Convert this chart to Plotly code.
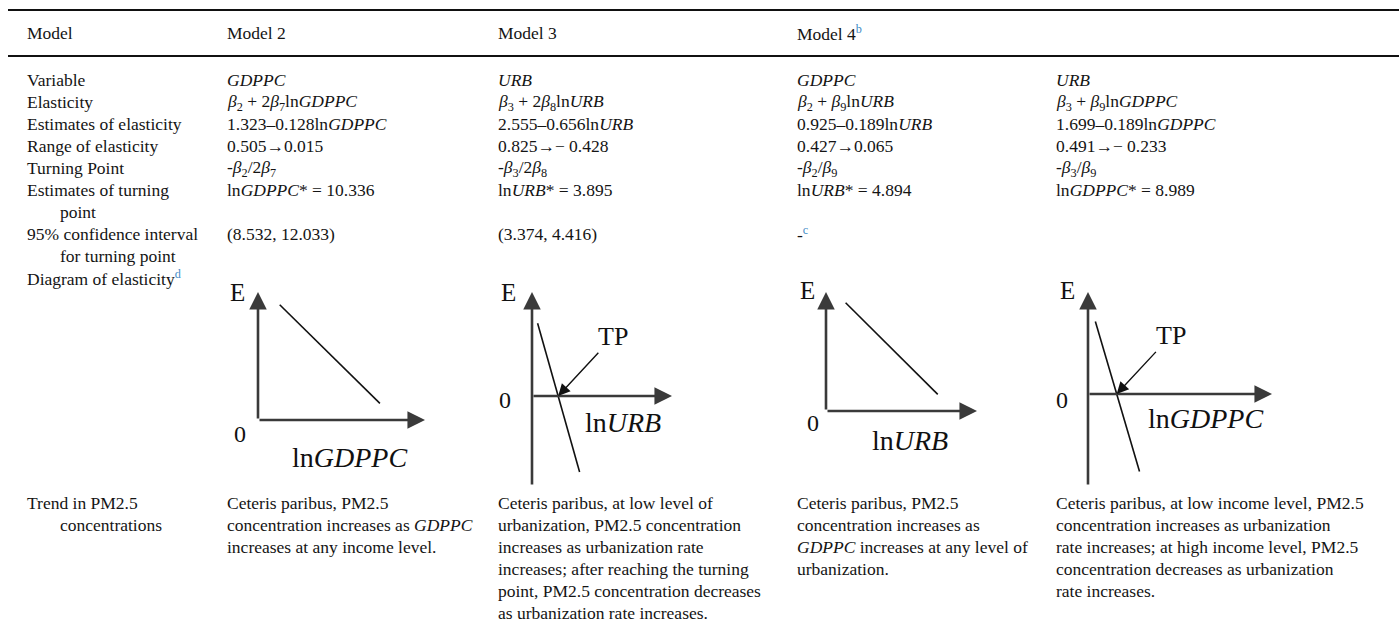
import plotly.graph_objects as go

# ---------------- table content ----------------
model_names = ["Model 2", "Model 3", "Model 4", ""]
model_notes = ["", "", "b", ""]

row_labels = ["Variable", "Elasticity", "Estimates of elasticity",
              "Range of elasticity", "Turning Point"]

variables = ["GDPPC", "URB", "GDPPC", "URB"]
elasticity = [
    "<i>β</i><sub>2</sub> + 2<i>β</i><sub>7</sub>ln<i>GDPPC</i>",
    "<i>β</i><sub>3</sub> + 2<i>β</i><sub>8</sub>ln<i>URB</i>",
    "<i>β</i><sub>2</sub> + <i>β</i><sub>9</sub>ln<i>URB</i>",
    "<i>β</i><sub>3</sub> + <i>β</i><sub>9</sub>ln<i>GDPPC</i>",
]
elas_const = [1.323, 2.555, 0.925, 1.699]
elas_slope = [0.128, 0.656, 0.189, 0.189]
elas_var = ["GDPPC", "URB", "URB", "GDPPC"]
range_start = [0.505, 0.825, 0.427, 0.491]
range_end = [0.015, -0.428, 0.065, -0.233]
turning_formula = [
    "-<i>β</i><sub>2</sub>/2<i>β</i><sub>7</sub>",
    "-<i>β</i><sub>3</sub>/2<i>β</i><sub>8</sub>",
    "-<i>β</i><sub>2</sub>/<i>β</i><sub>9</sub>",
    "-<i>β</i><sub>3</sub>/<i>β</i><sub>9</sub>",
]
tp_var = ["GDPPC", "URB", "URB", "GDPPC"]
tp_value = [10.336, 3.895, 4.894, 8.989]
ci_low = [8.532, 3.374, None, None]
ci_high = [12.033, 4.416, None, None]
ci_note = ["", "", "c", None]

trend_label = ["Trend in PM2.5", "concentrations"]
trend_text = [
    ["Ceteris paribus, PM2.5",
     "concentration increases as <i>GDPPC</i>",
     "increases at any income level."],
    ["Ceteris paribus, at low level of",
     "urbanization, PM2.5 concentration",
     "increases as urbanization rate",
     "increases; after reaching the turning",
     "point, PM2.5 concentration decreases",
     "as urbanization rate increases."],
    ["Ceteris paribus, PM2.5",
     "concentration increases as",
     "<i>GDPPC</i> increases at any level of",
     "urbanization."],
    ["Ceteris paribus, at low income level, PM2.5",
     "concentration increases as urbanization",
     "rate increases; at high income level, PM2.5",
     "concentration decreases as urbanization",
     "rate increases."],
]

# schematic elasticity lines (ln x, E) for each diagram, unit axes
sketch_x = [[0.13, 0.73], [0.04, 0.34], [0.13, 0.74], [0.04, 0.28]]
sketch_e = [[0.90, 0.13], [0.70, -0.73], [0.91, 0.14], [0.71, -0.76]]
sketch_axis = ["ln<i>GDPPC</i>", "ln<i>URB</i>", "ln<i>URB</i>", "ln<i>GDPPC</i>"]

# ---------------- layout geometry ----------------
W, H = 1399, 625
SERIF = "Liberation Serif, Times New Roman, serif"
FS = 17.5
INK = "#141414"
NOTE = "#3f8cc6"
AXC = "#3a3a3a"

col_x = [25, 225, 496, 795, 1054]
indent = 33
rule_y = [10, 56]
header_y = 33
row_y0, row_dy = 80, 22
trend_y0, trend_dy = 503, 22

# diagram frames: origin (px), x-axis length, y extent above/below origin,
# offsets of the E / 0 / axis-title labels, TP label position (unit axes)
diagrams = [
    dict(ox=258, oy=420, xl=167, up=128, down=0, e=(-21, -128), z=(-18, 14), t=(91, 37), tp=None),
    dict(ox=532, oy=396, xl=140, up=104, down=90, e=(-24, -104), z=(-27, 4), t=(91, 26), tp=(0.58, 0.57)),
    dict(ox=826, oy=411, xl=151, up=119, down=0, e=(-19, -121), z=(-13, 12), t=(84, 29), tp=None),
    dict(ox=1088, oy=394, xl=184, up=102, down=92, e=(-21, -104), z=(-26, 6), t=(117, 24), tp=(0.45, 0.57)),
]

ann = []


def put(x, y, text, size=FS, color=INK, xanchor="left"):
    ann.append(dict(x=x, y=y, xref="x", yref="y", text=text, showarrow=False,
                    xanchor=xanchor, yanchor="middle",
                    font=dict(family=SERIF, size=size, color=color)))


def note(s):
    return f"<span style='color:{NOTE}'><sup>{s}</sup></span>" if s else ""


def arrow_range(a, b):
    tail = f"− {abs(b):.3f}" if b < 0 else f"{b:.3f}"
    return f"{a:.3f}→{tail}"


# header
put(col_x[0], header_y, "Model")
for i, name in enumerate(model_names):
    if name:
        put(col_x[i + 1], header_y, name + note(model_notes[i]))

# simple rows
ys = [row_y0 + k * row_dy for k in range(12)]
for k, lab in enumerate(row_labels):
    put(col_x[0], ys[k], lab)
for i in range(4):
    put(col_x[i + 1], ys[0], f"<i>{variables[i]}</i>")
    put(col_x[i + 1], ys[1], elasticity[i])
    put(col_x[i + 1], ys[2], f"{elas_const[i]:.3f}–{elas_slope[i]:.3f}ln<i>{elas_var[i]}</i>")
    put(col_x[i + 1], ys[3], arrow_range(range_start[i], range_end[i]))
    put(col_x[i + 1], ys[4], turning_formula[i])
    put(col_x[i + 1], ys[5], f"ln<i>{tp_var[i]}</i>* = {tp_value[i]:.3f}")
    if ci_low[i] is not None:
        put(col_x[i + 1], ys[7], f"({ci_low[i]:.3f}, {ci_high[i]:.3f})")
    elif ci_note[i] is not None:
        put(col_x[i + 1], ys[7], "-" + note(ci_note[i]))

put(col_x[0], ys[5], "Estimates of turning")
put(col_x[0] + indent, ys[6], "point")
put(col_x[0], ys[7], "95% confidence interval")
put(col_x[0] + indent, ys[8], "for turning point")
put(col_x[0], ys[9], "Diagram of elasticity" + note("d"))

# trend rows
put(col_x[0], trend_y0, trend_label[0])
put(col_x[0] + indent, trend_y0 + trend_dy, trend_label[1])
for i, lines in enumerate(trend_text):
    for j, line in enumerate(lines):
        put(col_x[i + 1], trend_y0 + j * trend_dy, line)

fig = go.Figure()
layout_axes = {}

# elasticity diagrams, each on its own small pair of axes
for k, d in enumerate(diagrams):
    n = k + 2
    xa, ya = f"x{n}", f"y{n}"
    ymin = -d["down"] / d["up"]
    layout_axes[f"xaxis{n}"] = dict(domain=[d["ox"] / W, (d["ox"] + d["xl"]) / W],
                                    range=[0, 1], visible=False, anchor=ya, fixedrange=True)
    layout_axes[f"yaxis{n}"] = dict(domain=[(H - d["oy"] - d["down"]) / H, (H - d["oy"] + d["up"]) / H],
                                    range=[ymin, 1], visible=False, anchor=xa, fixedrange=True)
    # axis arrows
    for (x1, y1, x0, y0) in [(1, 0, 0, 0), (0, 1, 0, ymin)]:
        ann.append(dict(x=x1, y=y1, ax=x0, ay=y0, xref=xa, yref=ya, axref=xa, ayref=ya,
                        text="", showarrow=True, arrowhead=2, arrowsize=1.35,
                        arrowwidth=2.6, arrowcolor=AXC, standoff=0))
    fig.add_trace(go.Scatter(x=sketch_x[k], y=sketch_e[k], mode="lines", xaxis=xa, yaxis=ya,
                             line=dict(color="#111111", width=1.6), hoverinfo="skip"))
    # turning point marker arrow
    if d["tp"] is not None:
        (xa0, xa1), (e0, e1) = sketch_x[k], sketch_e[k]
        x_tp = xa0 + (xa1 - xa0) * e0 / (e0 - e1)
        ann.append(dict(x=x_tp, y=0, ax=d["tp"][0], ay=d["tp"][1], xref=xa, yref=ya,
                        axref=xa, ayref=ya, text="TP", showarrow=True, arrowhead=2,
                        arrowsize=1.7, arrowwidth=1.4, arrowcolor="#111111",
                        font=dict(family=SERIF, size=26, color="#111111")))
    put(d["ox"] + d["e"][0], d["oy"] + d["e"][1], "E", size=25, color="#111111", xanchor="center")
    put(d["ox"] + d["z"][0], d["oy"] + d["z"][1], "0", size=24, color="#111111", xanchor="center")
    put(d["ox"] + d["t"][0], d["oy"] + d["t"][1], sketch_axis[k], size=28, color="#111111",
        xanchor="center")

shapes = [dict(type="line", xref="x", yref="y", x0=8, x1=W, y0=y, y1=y,
               line=dict(color="#111111", width=2.2)) for y in rule_y]

fig.update_layout(
    width=W, height=H, margin=dict(l=0, r=0, t=0, b=0),
    paper_bgcolor="white", plot_bgcolor="white", showlegend=False,
    xaxis=dict(range=[0, W], domain=[0, 1], visible=False, fixedrange=True),
    yaxis=dict(range=[H, 0], domain=[0, 1], visible=False, fixedrange=True),
    annotations=ann, shapes=shapes, **layout_axes,
)

fig.write_html("out.html")
